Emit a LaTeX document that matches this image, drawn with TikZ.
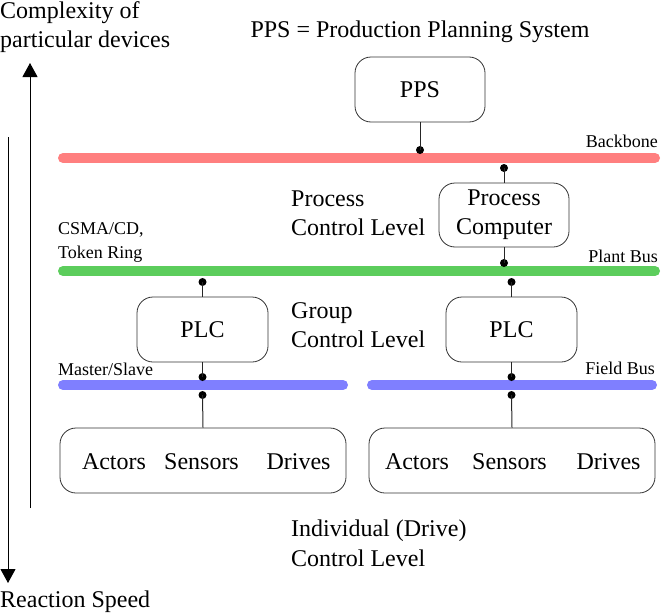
\documentclass[tikz,border=0pt]{standalone}
\usepackage{fontspec}
\setmainfont{Liberation Serif}
\usetikzlibrary{arrows.meta}
\definecolor{bbred}{HTML}{FF7F7F}
\definecolor{pbgreen}{HTML}{5CCD5C}
\definecolor{fbblue}{HTML}{7F7FFF}
\begin{document}
\begin{tikzpicture}[x=1pt,y=-1pt,
  box/.style={draw=black!80, line width=0.8pt, rounded corners=16pt, inner sep=0pt,
    font=\fontsize{24}{29}\selectfont, align=center},
  bus/.style={line width=10pt, line cap=round},
  big/.style={font=\fontsize{24}{29}\selectfont, inner sep=0pt, anchor=base west},
  small/.style={font=\fontsize{18}{24}\selectfont, inner sep=0pt},
  dev/.style={font=\fontsize{24}{29}\selectfont, inner sep=0pt, anchor=base},
  conn/.style={line width=1pt, black!85},
  dot/.style={circle, fill=black, inner sep=0pt, minimum size=8pt},
  axis/.style={line width=1pt, -{Triangle[length=14pt,width=15pt]}}]
\useasboundingbox (0,0) rectangle (661,613);

% axes
\coordinate (upb) at (30,508);
\coordinate (upt) at (30,63);
\coordinate (dnt) at (8,137);
\coordinate (dnb) at (8,583);
\draw[axis] (upb) -- (upt);
\draw[axis] (dnt) -- (dnb);
\node[big] (c1) at (0,19) {Complexity of};
\node[big] (c2) at (0,47) {particular devices};
\node[big] (rs) at (0,607) {Reaction Speed};

\node[font=\fontsize{24}{29}\selectfont, inner sep=0pt, anchor=base] (title) at (420,37) {PPS = Production Planning System};

% buses
\coordinate (bbL) at (63,158); \coordinate (bbR) at (655,158);
\coordinate (pbL) at (63,271); \coordinate (pbR) at (655,271);
\coordinate (fb1L) at (63,385); \coordinate (fb1R) at (343,385);
\coordinate (fb2L) at (372,385); \coordinate (fb2R) at (652,385);
\draw[bus, bbred] (bbL) -- (bbR);
\draw[bus, pbgreen] (pbL) -- (pbR);
\draw[bus, fbblue] (fb1L) -- (fb1R);
\draw[bus, fbblue] (fb2L) -- (fb2R);

% bus labels
\node[small, anchor=base east] (lbb) at (658,147) {Backbone};
\node[small, anchor=base east] (lpb) at (658,262) {Plant Bus};
\node[small, anchor=base east] (lfb) at (655,374) {Field Bus};
\node[small, anchor=base west] (lcs) at (58,234) {CSMA/CD,};
\node[small, anchor=base west] (ltr) at (58,258) {Token Ring};
\node[small, anchor=base west] (lms) at (58,375) {Master/Slave};

% level labels
\node[big] (pl1) at (291,206) {Process};
\node[big] (pl2) at (291,235) {Control Level};
\node[big] (gl1) at (291,318) {Group};
\node[big] (gl2) at (291,347) {Control Level};
\node[big] (il1) at (291,536) {Individual (Drive)};
\node[big] (il2) at (291,566) {Control Level};

% boxes
\node[box, minimum width=130pt, minimum height=65pt] (pps) at (420,89.5) {PPS};
\node[box, minimum width=130pt, minimum height=64pt] (pc) at (504,215) {Process\\Computer};
\node[box, minimum width=131pt, minimum height=65pt] (plc1) at (202.5,329.5) {PLC};
\node[box, minimum width=131pt, minimum height=65pt] (plc2) at (511.5,329.5) {PLC};
\node[box, minimum width=286pt, minimum height=65pt] (dev1) at (203,460.5) {};
\node[box, minimum width=286pt, minimum height=65pt] (dev2) at (512,460.5) {};

\node[dev] (a1) at (114,469) {Actors};
\node[dev] (s1) at (201.5,469) {Sensors};
\node[dev] (d1) at (298.5,469) {Drives};
\node[dev] (a2) at (417,469) {Actors};
\node[dev] (s2) at (509.5,469) {Sensors};
\node[dev] (d2) at (608.5,469) {Drives};

% dots
\node[dot] (d_pps) at (420,150) {};
\node[dot] (d_pct) at (504,168) {};
\node[dot] (d_pcb) at (504,263) {};
\node[dot] (d_p1t) at (202.5,282) {};
\node[dot] (d_p2t) at (511.5,282) {};
\node[dot] (d_p1b) at (202.5,377) {};
\node[dot] (d_p2b) at (511.5,377) {};
\node[dot] (d_f1) at (202.5,395) {};
\node[dot] (d_f2) at (511.5,395) {};

% connectors
\draw[conn] (pps.south) -- (d_pps.center);
\draw[conn] (d_pct.center) -- (pc.north);
\draw[conn] (pc.south) -- (d_pcb.center);
\draw[conn] (d_p1t.center) -- (plc1.north);
\draw[conn] (d_p2t.center) -- (plc2.north);
\draw[conn] (plc1.south) -- (d_p1b.center);
\draw[conn] (plc2.south) -- (d_p2b.center);
\draw[conn] (d_f1.center) -- (dev1.north);
\draw[conn] (d_f2.center) -- (dev2.north);
\end{tikzpicture}
\end{document}
